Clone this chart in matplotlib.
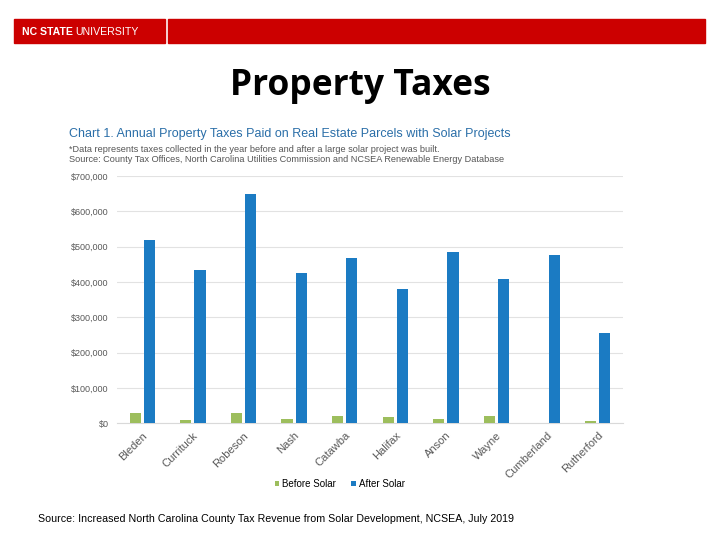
import matplotlib.pyplot as plt
from matplotlib.patches import Rectangle
from matplotlib.ticker import FuncFormatter

counties = ['Bleden', 'Currituck', 'Robeson', 'Nash', 'Catawba',
            'Halifax', 'Anson', 'Wayne', 'Cumberland', 'Rutherford']
before_solar = [28000, 10000, 30000, 13000, 20000, 19000, 13000, 20000, 0, 6500]
after_solar = [519000, 435000, 650000, 426000, 468000, 381000, 485000, 409000, 477000, 256000]

blue = '#1B7BC3'
green = '#9DBE5D'
red = '#CC0000'

fig = plt.figure(figsize=(7.2, 5.4), dpi=100)
W, H = 720, 540

# header banner
fig.patches.append(Rectangle((14 / W, 1 - 43 / H), 151 / W, 24 / H, transform=fig.transFigure,
                             color=red, zorder=0))
fig.patches.append(Rectangle((168 / W, 1 - 43 / H), 537 / W, 24 / H, transform=fig.transFigure,
                             color=red, zorder=0))
t1 = fig.text(22 / W, 1 - 32 / H, 'NC STATE', color='white', fontsize=7.6, fontweight='bold',
              family='Liberation Sans', va='center', ha='left')
fig.canvas.draw()
x_end = t1.get_window_extent().x1
fig.text((x_end + 2) / W, 1 - 32 / H, 'UNIVERSITY', color='white', fontsize=7.6,
         family='Liberation Sans', va='center', ha='left')

fig.text(360 / W, 1 - 86 / H, 'Property Taxes', fontsize=25.5, fontweight='bold',
         family='Open Sans', ha='center', va='center')

fig.text(69 / W, 1 - 134 / H, 'Chart 1. Annual Property Taxes Paid on Real Estate Parcels with Solar Projects',
         color='#2A6EA8', fontsize=9.0, family='Liberation Sans', ha='left', va='center')
fig.text(69 / W, 1 - 149 / H, '*Data represents taxes collected in the year before and after a large solar project was built.',
         color='#555555', fontsize=6.6, family='Liberation Sans', ha='left', va='center')
fig.text(69 / W, 1 - 160 / H, 'Source: County Tax Offices, North Carolina Utilities Commission and NCSEA Renewable Energy Database',
         color='#555555', fontsize=6.6, family='Liberation Sans', ha='left', va='center')

ax = fig.add_axes([117 / W, 1 - 423.3 / H, 506 / W, 247.3 / H])
x = list(range(len(counties)))
w = 0.22
ax.bar([i - 0.14 for i in x], before_solar, width=w, color=green, label='Before Solar', zorder=3)
ax.bar([i + 0.14 for i in x], after_solar, width=w, color=blue, label='After Solar', zorder=3)

ax.set_xlim(-0.5, len(counties) - 0.5)
ax.set_ylim(0, 700000)
ax.set_yticks(range(0, 700001, 100000))
ax.yaxis.set_major_formatter(FuncFormatter(lambda v, p: '${:,.0f}'.format(v)))
ax.grid(axis='y', color='#E2E2E2', linewidth=0.8, zorder=0)
for s in ['top', 'right', 'left']:
    ax.spines[s].set_visible(False)
ax.spines['bottom'].set_color('#D9D9D9')
ax.tick_params(axis='both', length=0, labelsize=6.5, labelcolor='#595959')
ax.tick_params(axis='y', pad=6)
ax.tick_params(axis='x', pad=5)
ax.set_xticks(x)
ax.set_xticklabels(counties, rotation=45, ha='right', rotation_mode='anchor',
                   fontsize=8, family='Liberation Sans')
for t in ax.get_yticklabels():
    t.set_family('Liberation Sans')

ax.legend(loc='upper center', bbox_to_anchor=(0.44, -0.19), ncol=2, frameon=False,
          handlelength=0.5, handleheight=0.5, handletextpad=0.3,
          columnspacing=1.5, prop={'family': 'Liberation Sans', 'size': 7})

fig.text(38 / W, 1 - 519 / H, 'Source: Increased North Carolina County Tax Revenue from Solar Development, NCSEA, July 2019',
         fontsize=7.7, family='Liberation Sans', ha='left', va='center')

fig.savefig('out.png', dpi=100)
